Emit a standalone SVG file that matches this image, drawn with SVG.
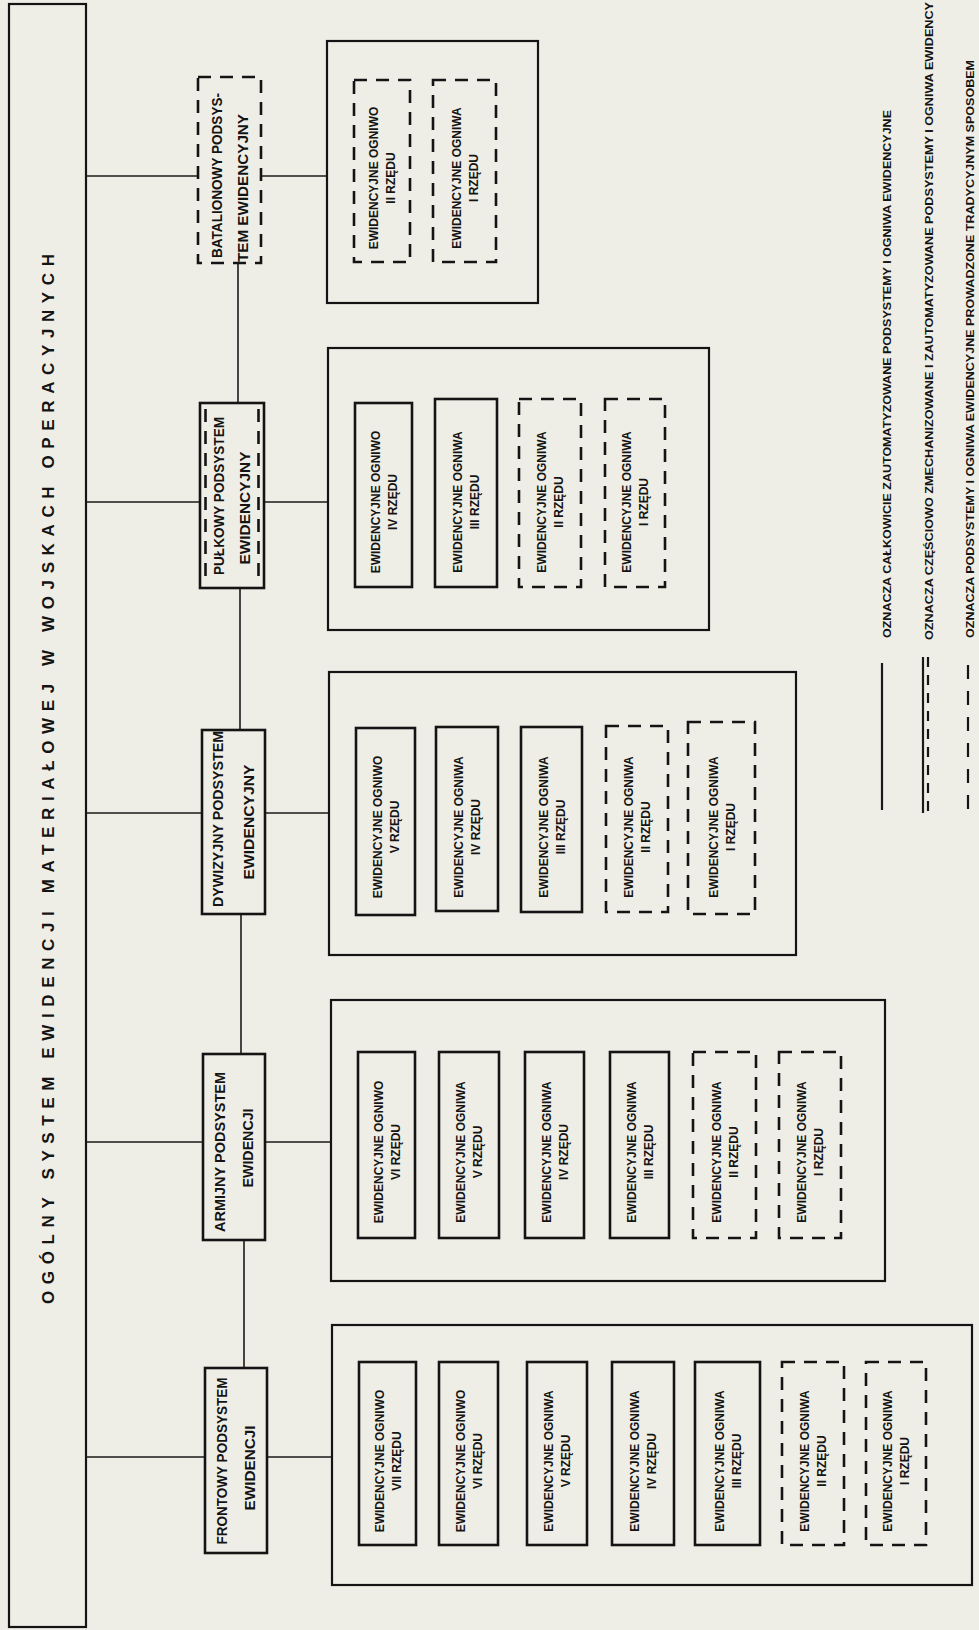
<svg xmlns="http://www.w3.org/2000/svg" width="979" height="1630" viewBox="0 0 979 1630">
  <style>
    .paper { fill: #efeee6; }
    .frame { fill: none; stroke: #141414; stroke-width: 2.2; }
    .solid { fill: none; stroke: #141414; stroke-width: 2.6; }
    .dash { fill: none; stroke: #141414; stroke-width: 2.6; stroke-dasharray: 13 9; }
    .wire { fill: none; stroke: #1a1a1a; stroke-width: 1.6; }
    text { font-family: "Liberation Sans", "DejaVu Sans", sans-serif; font-weight: bold; fill: #141414; dominant-baseline: central; }
    .title { font-size: 17px; text-anchor: middle; }
    .sub { font-size: 14px; text-anchor: middle; }
    .subl { font-size: 14px; text-anchor: start; }
    .cell { font-size: 12px; text-anchor: middle; }
    .leg { font-size: 11.5px; text-anchor: start; }
  </style>

  <rect class="paper" x="0" y="0" width="979" height="1630"/>

  <!-- top-level system bar -->
  <g id="system">
    <rect class="frame" x="9" y="4" width="77" height="1623"/>
    <text class="title" transform="translate(48,779) rotate(-90)" textLength="1050" lengthAdjust="spacing">OGÓLNY SYSTEM EWIDENCJI MATERIAŁOWEJ W WOJSKACH OPERACYJNYCH</text>
  </g>

  <!-- connectors: branches from the bar and the vertical spine -->
  <g id="connectors">
    <line class="wire" x1="86" y1="176" x2="198" y2="176"/>
    <line class="wire" x1="261" y1="176" x2="327" y2="176"/>
    <line class="wire" x1="86" y1="502" x2="200" y2="502"/>
    <line class="wire" x1="264" y1="502" x2="328" y2="502"/>
    <line class="wire" x1="86" y1="813" x2="202" y2="813"/>
    <line class="wire" x1="265" y1="813" x2="329" y2="813"/>
    <line class="wire" x1="86" y1="1142" x2="203" y2="1142"/>
    <line class="wire" x1="265" y1="1142" x2="331" y2="1142"/>
    <line class="wire" x1="86" y1="1457" x2="205" y2="1457"/>
    <line class="wire" x1="267" y1="1457" x2="332" y2="1457"/>
    <line class="wire" x1="238" y1="263" x2="238" y2="403"/>
    <line class="wire" x1="240" y1="588" x2="240" y2="730"/>
    <line class="wire" x1="241" y1="914" x2="241" y2="1054"/>
    <line class="wire" x1="244" y1="1240" x2="244" y2="1368"/>
  </g>

  <!-- battalion level -->
  <g id="batalionowy">
    <rect class="dash" x="198" y="77" width="63" height="186"/>
    <text class="subl" transform="translate(216.5,258) rotate(-90)" textLength="165" lengthAdjust="spacingAndGlyphs">BATALIONOWY PODSYS-</text>
    <text class="subl" transform="translate(243,262) rotate(-90)" textLength="148" lengthAdjust="spacingAndGlyphs">TEM EWIDENCYJNY</text>
  </g>
  <g id="batalionowy-ogniwa">
    <rect class="frame" x="327" y="41" width="211" height="262"/>
    <g id="b1">
      <rect class="dash" x="354" y="80" width="56" height="182"/>
      <text class="cell" transform="translate(374,178) rotate(-90)">EWIDENCYJNE OGNIWO</text>
      <text class="cell" transform="translate(391,178) rotate(-90)">II RZĘDU</text>
    </g>
    <g id="b2">
      <rect class="dash" x="433" y="80" width="63" height="182"/>
      <text class="cell" transform="translate(456.5,178) rotate(-90)">EWIDENCYJNE OGNIWA</text>
      <text class="cell" transform="translate(473.5,178) rotate(-90)">I RZĘDU</text>
    </g>
  </g>

  <!-- regiment level -->
  <g id="pulkowy">
    <rect class="solid" x="200" y="403" width="64" height="185"/>
    <line class="dash" x1="205.5" y1="409" x2="205.5" y2="583"/>
    <line class="dash" x1="258.5" y1="409" x2="258.5" y2="583"/>
    <text class="sub" transform="translate(219,496) rotate(-90)" textLength="158" lengthAdjust="spacingAndGlyphs">PUŁKOWY PODSYSTEM</text>
    <text class="sub" transform="translate(245,508) rotate(-90)" textLength="113" lengthAdjust="spacingAndGlyphs">EWIDENCYJNY</text>
  </g>
  <g id="pulkowy-ogniwa">
    <rect class="frame" x="328" y="348" width="381" height="282"/>
    <g id="p1">
      <rect class="solid" x="355" y="403" width="57" height="184"/>
      <text class="cell" transform="translate(375.5,502) rotate(-90)">EWIDENCYJNE OGNIWO</text>
      <text class="cell" transform="translate(392.5,502) rotate(-90)">IV RZĘDU</text>
    </g>
    <g id="p2">
      <rect class="solid" x="435" y="399" width="62" height="188"/>
      <text class="cell" transform="translate(458,502) rotate(-90)">EWIDENCYJNE OGNIWA</text>
      <text class="cell" transform="translate(475,502) rotate(-90)">III RZĘDU</text>
    </g>
    <g id="p3">
      <rect class="dash" x="519" y="399" width="62" height="188"/>
      <text class="cell" transform="translate(542,502) rotate(-90)">EWIDENCYJNE OGNIWA</text>
      <text class="cell" transform="translate(559,502) rotate(-90)">II RZĘDU</text>
    </g>
    <g id="p4">
      <rect class="dash" x="605" y="399" width="60" height="188"/>
      <text class="cell" transform="translate(627,502) rotate(-90)">EWIDENCYJNE OGNIWA</text>
      <text class="cell" transform="translate(644,502) rotate(-90)">I RZĘDU</text>
    </g>
  </g>

  <!-- division level -->
  <g id="dywizyjny">
    <rect class="solid" x="202" y="730" width="63" height="184"/>
    <text class="sub" transform="translate(218,819) rotate(-90)" textLength="176" lengthAdjust="spacingAndGlyphs">DYWIZYJNY PODSYSTEM</text>
    <text class="sub" transform="translate(249,822) rotate(-90)" textLength="115" lengthAdjust="spacingAndGlyphs">EWIDENCYJNY</text>
  </g>
  <g id="dywizyjny-ogniwa">
    <rect class="frame" x="329" y="672" width="467" height="283"/>
    <g id="d1">
      <rect class="solid" x="356" y="728" width="59" height="187"/>
      <text class="cell" transform="translate(377.5,827) rotate(-90)">EWIDENCYJNE OGNIWO</text>
      <text class="cell" transform="translate(394.5,827) rotate(-90)">V RZĘDU</text>
    </g>
    <g id="d2">
      <rect class="solid" x="436" y="727" width="62" height="184"/>
      <text class="cell" transform="translate(459,827) rotate(-90)">EWIDENCYJNE OGNIWA</text>
      <text class="cell" transform="translate(476,827) rotate(-90)">IV RZĘDU</text>
    </g>
    <g id="d3">
      <rect class="solid" x="521" y="727" width="61" height="185"/>
      <text class="cell" transform="translate(543.5,827) rotate(-90)">EWIDENCYJNE OGNIWA</text>
      <text class="cell" transform="translate(560.5,827) rotate(-90)">III RZĘDU</text>
    </g>
    <g id="d4">
      <rect class="dash" x="606" y="726" width="62" height="186"/>
      <text class="cell" transform="translate(629,827) rotate(-90)">EWIDENCYJNE OGNIWA</text>
      <text class="cell" transform="translate(646,827) rotate(-90)">II RZĘDU</text>
    </g>
    <g id="d5">
      <rect class="dash" x="688" y="722" width="67" height="192"/>
      <text class="cell" transform="translate(713.5,827) rotate(-90)">EWIDENCYJNE OGNIWA</text>
      <text class="cell" transform="translate(730.5,827) rotate(-90)">I RZĘDU</text>
    </g>
  </g>

  <!-- army level -->
  <g id="armijny">
    <rect class="solid" x="203" y="1054" width="62" height="186"/>
    <text class="sub" transform="translate(220,1152) rotate(-90)" textLength="160" lengthAdjust="spacingAndGlyphs">ARMIJNY PODSYSTEM</text>
    <text class="sub" transform="translate(248,1148) rotate(-90)" textLength="79" lengthAdjust="spacingAndGlyphs">EWIDENCJI</text>
  </g>
  <g id="armijny-ogniwa">
    <rect class="frame" x="331" y="1000" width="554" height="281"/>
    <g id="a1">
      <rect class="solid" x="358" y="1052" width="57" height="186"/>
      <text class="cell" transform="translate(378.5,1152) rotate(-90)">EWIDENCYJNE OGNIWO</text>
      <text class="cell" transform="translate(395.5,1152) rotate(-90)">VI RZĘDU</text>
    </g>
    <g id="a2">
      <rect class="solid" x="439" y="1052" width="60" height="186"/>
      <text class="cell" transform="translate(461,1152) rotate(-90)">EWIDENCYJNE OGNIWA</text>
      <text class="cell" transform="translate(478,1152) rotate(-90)">V RZĘDU</text>
    </g>
    <g id="a3">
      <rect class="solid" x="525" y="1052" width="59" height="186"/>
      <text class="cell" transform="translate(546.5,1152) rotate(-90)">EWIDENCYJNE OGNIWA</text>
      <text class="cell" transform="translate(563.5,1152) rotate(-90)">IV RZĘDU</text>
    </g>
    <g id="a4">
      <rect class="solid" x="610" y="1052" width="59" height="186"/>
      <text class="cell" transform="translate(631.5,1152) rotate(-90)">EWIDENCYJNE OGNIWA</text>
      <text class="cell" transform="translate(648.5,1152) rotate(-90)">III RZĘDU</text>
    </g>
    <g id="a5">
      <rect class="dash" x="693" y="1052" width="63" height="186"/>
      <text class="cell" transform="translate(716.5,1152) rotate(-90)">EWIDENCYJNE OGNIWA</text>
      <text class="cell" transform="translate(733.5,1152) rotate(-90)">II RZĘDU</text>
    </g>
    <g id="a6">
      <rect class="dash" x="779" y="1052" width="62" height="186"/>
      <text class="cell" transform="translate(802,1152) rotate(-90)">EWIDENCYJNE OGNIWA</text>
      <text class="cell" transform="translate(819,1152) rotate(-90)">I RZĘDU</text>
    </g>
  </g>

  <!-- front level -->
  <g id="frontowy">
    <rect class="solid" x="205" y="1368" width="62" height="185"/>
    <text class="sub" transform="translate(222,1461) rotate(-90)" textLength="167" lengthAdjust="spacingAndGlyphs">FRONTOWY PODSYSTEM</text>
    <text class="sub" transform="translate(250,1468) rotate(-90)" textLength="85" lengthAdjust="spacingAndGlyphs">EWIDENCJI</text>
  </g>
  <g id="frontowy-ogniwa">
    <rect class="frame" x="332" y="1325" width="640" height="260"/>
    <g id="f1">
      <rect class="solid" x="359" y="1362" width="57" height="183"/>
      <text class="cell" transform="translate(379.5,1461) rotate(-90)">EWIDENCYJNE OGNIWO</text>
      <text class="cell" transform="translate(396.5,1461) rotate(-90)">VII RZĘDU</text>
    </g>
    <g id="f2">
      <rect class="solid" x="439" y="1362" width="59" height="183"/>
      <text class="cell" transform="translate(460.5,1461) rotate(-90)">EWIDENCYJNE OGNIWO</text>
      <text class="cell" transform="translate(477.5,1461) rotate(-90)">VI RZĘDU</text>
    </g>
    <g id="f3">
      <rect class="solid" x="527" y="1362" width="60" height="183"/>
      <text class="cell" transform="translate(549,1461) rotate(-90)">EWIDENCYJNE OGNIWA</text>
      <text class="cell" transform="translate(566,1461) rotate(-90)">V RZĘDU</text>
    </g>
    <g id="f4">
      <rect class="solid" x="612" y="1362" width="62" height="183"/>
      <text class="cell" transform="translate(635,1461) rotate(-90)">EWIDENCYJNE OGNIWA</text>
      <text class="cell" transform="translate(652,1461) rotate(-90)">IV RZĘDU</text>
    </g>
    <g id="f5">
      <rect class="solid" x="695" y="1362" width="65" height="183"/>
      <text class="cell" transform="translate(719.5,1461) rotate(-90)">EWIDENCYJNE OGNIWA</text>
      <text class="cell" transform="translate(736.5,1461) rotate(-90)">III RZĘDU</text>
    </g>
    <g id="f6">
      <rect class="dash" x="782" y="1362" width="62" height="183"/>
      <text class="cell" transform="translate(805,1461) rotate(-90)">EWIDENCYJNE OGNIWA</text>
      <text class="cell" transform="translate(822,1461) rotate(-90)">II RZĘDU</text>
    </g>
    <g id="f7">
      <rect class="dash" x="866" y="1362" width="60" height="183"/>
      <text class="cell" transform="translate(888,1461) rotate(-90)">EWIDENCYJNE OGNIWA</text>
      <text class="cell" transform="translate(905,1461) rotate(-90)">I RZĘDU</text>
    </g>
  </g>

  <!-- legend of line styles -->
  <g id="legend">
    <line class="wire" style="stroke-width:2.2" x1="882" y1="663" x2="882" y2="810"/>
    <text class="leg" transform="translate(887,638) rotate(-90)" textLength="528" lengthAdjust="spacingAndGlyphs">OZNACZA  CAŁKOWICIE  ZAUTOMATYZOWANE  PODSYSTEMY  I  OGNIWA  EWIDENCYJNE</text>
    <line class="wire" style="stroke-width:2.2" x1="923" y1="657" x2="923" y2="813"/>
    <line class="dash" style="stroke-width:2.2;stroke-dasharray:10 8" x1="928" y1="657" x2="928" y2="813"/>
    <text class="leg" transform="translate(929,640) rotate(-90)" textLength="638" lengthAdjust="spacingAndGlyphs">OZNACZA  CZĘŚCIOWO  ZMECHANIZOWANE  I  ZAUTOMATYZOWANE  PODSYSTEMY  I  OGNIWA  EWIDENCY</text>
    <line class="dash" style="stroke-width:2.2;stroke-dasharray:14 12" x1="968" y1="665" x2="968" y2="812"/>
    <text class="leg" transform="translate(970,638) rotate(-90)" textLength="578" lengthAdjust="spacingAndGlyphs">OZNACZA  PODSYSTEMY  I  OGNIWA  EWIDENCYJNE  PROWADZONE  TRADYCYJNYM  SPOSOBEM</text>
  </g>
</svg>
